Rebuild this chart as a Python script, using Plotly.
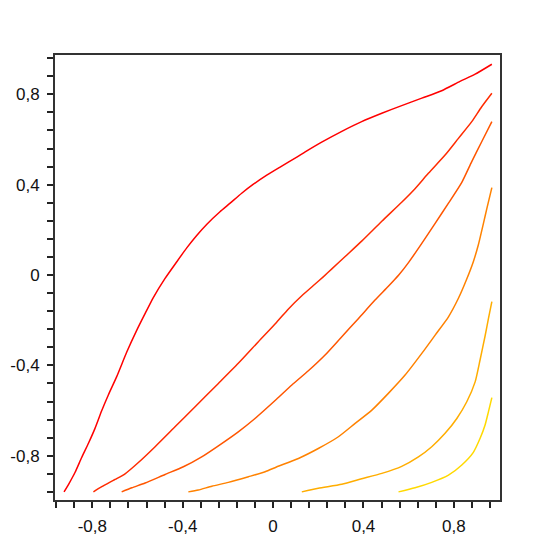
import plotly.graph_objects as go

# curves, red -> yellow
x1 = [-0.925, -0.903, -0.876, -0.847, -0.817, -0.788, -0.758, -0.729, -0.692, -0.647, -0.603,
      -0.566, -0.530, -0.478, -0.426, -0.382, -0.338, -0.293, -0.235, -0.190, -0.139, -0.087,
      -0.028, 0.031, 0.105, 0.142, 0.215, 0.304, 0.392, 0.481, 0.569, 0.658, 0.746, 0.827,
      0.894, 0.968]
y1 = [-0.960, -0.923, -0.873, -0.808, -0.745, -0.679, -0.600, -0.531, -0.450, -0.340, -0.244,
      -0.170, -0.100, -0.015, 0.059, 0.120, 0.175, 0.225, 0.280, 0.318, 0.362, 0.402,
      0.442, 0.478, 0.522, 0.545, 0.588, 0.636, 0.679, 0.716, 0.750, 0.783, 0.816, 0.857,
      0.889, 0.933]

x2 = [-0.795, -0.758, -0.699, -0.655, -0.596, -0.522, -0.434, -0.345, -0.242, -0.154, -0.065,
      0.015, 0.068, 0.127, 0.186, 0.222, 0.260, 0.319, 0.392, 0.481, 0.569, 0.628, 0.687,
      0.761, 0.820, 0.879, 0.923, 0.968]
y2 = [-0.960, -0.937, -0.905, -0.880, -0.830, -0.760, -0.672, -0.583, -0.480, -0.391, -0.295,
      -0.210, -0.150, -0.092, -0.040, -0.008, 0.027, 0.082, 0.150, 0.238, 0.322, 0.382, 0.450,
      0.531, 0.605, 0.679, 0.745, 0.805]

x3 = [-0.670, -0.625, -0.566, -0.478, -0.397, -0.316, -0.242, -0.154, -0.080, 0.015, 0.083,
      0.156, 0.230, 0.304, 0.378, 0.451, 0.510, 0.556, 0.599, 0.658, 0.717, 0.776, 0.835,
      0.879, 0.923, 0.968]
y3 = [-0.960, -0.942, -0.921, -0.883, -0.849, -0.805, -0.756, -0.694, -0.635, -0.550, -0.487,
      -0.424, -0.354, -0.273, -0.192, -0.111, -0.050, 0.000, 0.055, 0.140, 0.229, 0.318, 0.410,
      0.502, 0.590, 0.679]

x4 = [-0.375, -0.331, -0.271, -0.198, -0.109, -0.035, 0.015, 0.112, 0.200, 0.289, 0.363,
      0.437, 0.510, 0.584, 0.658, 0.717, 0.776, 0.820, 0.856, 0.886, 0.908, 0.931, 0.946,
      0.968]
y4 = [-0.960, -0.952, -0.935, -0.918, -0.893, -0.871, -0.850, -0.812, -0.768, -0.716, -0.657,
      -0.598, -0.524, -0.443, -0.347, -0.266, -0.185, -0.103, -0.020, 0.059, 0.133, 0.230, 0.295,
      0.387]

x5 = [0.127, 0.200, 0.304, 0.392, 0.481, 0.569, 0.643, 0.702, 0.761, 0.813, 0.857, 0.894,
      0.916, 0.938, 0.953, 0.968]
y5 = [-0.960, -0.944, -0.926, -0.902, -0.878, -0.847, -0.805, -0.760, -0.701, -0.635, -0.561,
      -0.473, -0.375, -0.270, -0.192, -0.118]

x6 = [0.555, 0.628, 0.702, 0.776, 0.835, 0.886, 0.916, 0.938, 0.953, 0.968]
y6 = [-0.960, -0.942, -0.918, -0.886, -0.841, -0.785, -0.723, -0.664, -0.605, -0.543]

series = [(x1, y1), (x2, y2), (x3, y3), (x4, y4), (x5, y5), (x6, y6)]
colors = ["#ff0000", "#ff2b00", "#ff5600", "#ff8200", "#ffad00", "#ffd900"]

tick_vals = [-0.8, -0.4, 0, 0.4, 0.8]
tick_text = ["-0,8", "-0,4", "0", "0,4", "0,8"]

fig = go.Figure()
for (xs, ys), c in zip(series, colors):
    fig.add_trace(go.Scatter(x=xs, y=ys, mode="lines",
                             line=dict(color=c, width=1.5, shape="spline", smoothing=0.6),
                             showlegend=False, hoverinfo="skip"))

axis_style = dict(
    tickmode="array", tickvals=tick_vals, ticktext=tick_text,
    ticks="outside", ticklen=6, tickwidth=1.5, tickcolor="#222",
    showline=True, linecolor="#333", linewidth=2, mirror=True,
    showgrid=False, zeroline=False, ticklabelstandoff=4, automargin=False,
    minor=dict(ticks="outside", ticklen=6, tickwidth=1.5, tickcolor="#222",
               tick0=0, dtick=0.08, showgrid=False),
    tickfont=dict(family="Liberation Sans, Arial, sans-serif", size=17, color="#111"),
)

fig.update_xaxes(range=[-0.965, 1.004], **axis_style)
fig.update_yaxes(range=[-0.996, 0.974], **axis_style)

# page body has an 8px margin, so the plot box is shifted back by that much
fig.update_layout(
    width=556, height=556,
    margin=dict(l=47, r=64, t=47, b=64),
    plot_bgcolor="white", paper_bgcolor="white",
)

fig.write_html("out.html")
